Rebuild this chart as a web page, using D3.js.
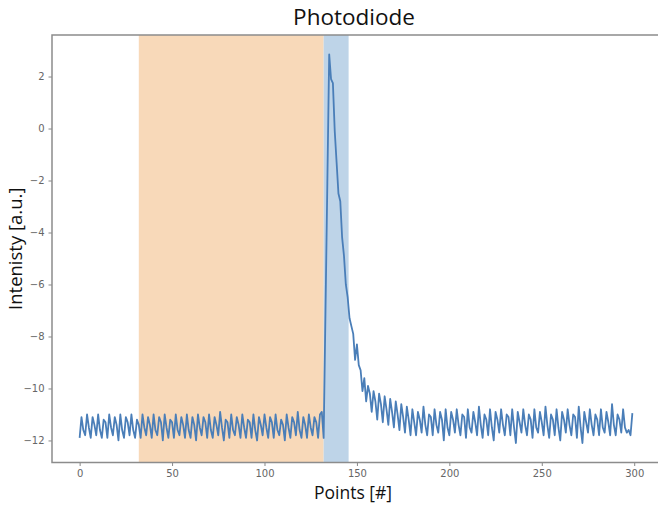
<!DOCTYPE html>
<html>
<head>
<meta charset="utf-8">
<script src="https://cdn.jsdelivr.net/npm/d3@7"></script>
<style>
  body { margin: 0; background: #fff; }
  svg { display: block; }
</style>
</head>
<body>
<script>
// Photodiode trace, one value per point index (0..299)
var before = [
  -11.9, -11.1, -11.6, -11.8, -11.0, -11.5, -11.9, -11.1, -11.4, -11.8,
  -11.0, -11.6, -11.9, -11.2, -11.3, -11.9, -11.0, -11.5, -11.8, -11.1,
  -11.4, -12.0, -11.0, -11.6, -11.9, -11.1, -11.3, -11.8, -11.0, -11.6,
  -11.9, -11.2, -11.4, -11.9, -11.0, -11.5, -11.8, -11.1, -11.4, -11.9,
  -11.0, -11.6, -11.8, -11.1, -11.3, -12.0, -11.0, -11.5, -11.9, -11.2,
  -11.3, -11.9, -11.0, -11.6, -11.8, -11.1, -11.4, -11.9, -11.0, -11.6,
  -11.9, -11.1, -11.4, -12.0, -11.0, -11.5, -11.8, -11.1, -11.3, -11.9,
  -11.0, -11.6, -11.9, -11.1, -11.4, -11.8, -10.9, -11.5, -12.0, -11.2,
  -11.3, -11.9, -11.0, -11.6, -11.8, -11.1, -11.4, -11.9, -11.0, -11.5,
  -11.9, -11.2, -11.3, -11.9, -11.0, -11.6, -12.0, -11.1, -11.4, -11.8,
  -11.0, -11.5, -11.9, -11.1, -11.3, -11.9, -11.0, -11.6, -11.8, -11.2,
  -11.4, -12.0, -11.0, -11.5, -11.9, -11.1, -11.3, -11.8, -10.9, -11.6,
  -11.9, -11.1, -11.4, -11.9, -11.0, -11.5, -11.8, -11.1, -11.3, -11.9,
  -11.0, -10.9
];
var pulse = [
  -11.9, -7.0, -2.1, 2.85, 1.9, 1.75, -0.1, -1.3, -2.5, -2.8,
  -4.2, -4.9, -6.0, -6.5, -7.3, -7.6, -7.9, -8.9, -8.3, -9.1,
  -9.3, -10.1, -9.6, -10.5, -9.9, -10.2, -10.9, -10.1, -10.5, -11.2,
  -10.2, -10.6, -11.3, -10.3, -10.8, -11.4, -10.4, -10.9, -11.5, -10.5,
  -11.0, -11.6, -10.6, -11.1, -11.7, -10.7, -11.2, -11.8
];
var after = [
  -10.8, -11.3, -11.8, -10.9, -11.2, -11.7, -10.7, -11.4, -11.8, -11.0,
  -11.1, -11.8, -10.8, -11.4, -11.7, -10.9, -11.2, -12.0, -10.8, -11.5,
  -11.8, -10.9, -11.2, -11.7, -10.8, -11.4, -11.8, -11.0, -11.1, -11.9,
  -10.8, -11.5, -11.7, -10.9, -11.3, -11.8, -10.7, -11.4, -11.9, -11.0,
  -11.2, -11.8, -10.8, -11.5, -12.0, -10.9, -11.2, -11.7, -10.8, -11.4,
  -11.8, -11.0, -11.1, -11.8, -10.8, -11.5, -12.1, -10.9, -11.3, -11.7,
  -10.8, -11.4, -11.8, -11.0, -11.2, -11.9, -10.8, -11.5, -11.7, -10.9,
  -11.3, -11.8, -10.7, -11.4, -11.9, -11.0, -11.2, -11.8, -10.8, -11.5,
  -12.0, -10.9, -11.2, -11.7, -10.8, -11.4, -11.8, -11.0, -11.1, -11.9,
  -10.7, -11.5, -12.1, -10.9, -11.3, -11.7, -10.8, -11.4, -11.8, -11.0,
  -11.2, -11.8, -10.8, -11.5, -11.7, -10.9, -11.3, -11.8, -10.6, -11.4,
  -11.8, -11.0, -11.2, -11.7, -10.8, -11.5, -11.7, -11.6, -11.8, -10.95
];
var intensity = before.concat(pulse, after);

// shaded windows [start, end] in points
var windowA = [32, 132];
var windowB = [132, 145.5];

var xTicks = [0, 50, 100, 150, 200, 250, 300];
var yTicks = [-12, -10, -8, -6, -4, -2, 0, 2];

var W = 658, H = 506;
// plot box (right edge sits just past the crop)
var pL = 52, pR = 660, pT = 35, pB = 462.5;

var svg = d3.select("body").append("svg")
  .attr("width", W)
  .attr("height", H);

var n = intensity.length;
var xPad = (n - 1) * 0.05;
var x = d3.scaleLinear()
  .domain([-xPad, n - 1 + xPad])
  .range([pL, pR]);

var ext = d3.extent(intensity);
var yPad = (ext[1] - ext[0]) * 0.05;
var y = d3.scaleLinear()
  .domain([ext[0] - yPad, ext[1] + yPad])
  .range([pB, pT]);

// spans
svg.append("rect")
  .attr("x", x(windowA[0]))
  .attr("y", pT)
  .attr("width", x(windowA[1]) - x(windowA[0]))
  .attr("height", pB - pT)
  .style("fill", "#f8d9b9");

svg.append("rect")
  .attr("x", x(windowB[0]))
  .attr("y", pT)
  .attr("width", x(windowB[1]) - x(windowB[0]))
  .attr("height", pB - pT)
  .style("fill", "#bed4e8");

var line = d3.line()
  .x(function(d, i){ return x(i); })
  .y(function(d){ return y(d); });

svg.append("path")
  .datum(intensity)
  .attr("d", line)
  .style("fill", "none")
  .style("stroke", "#4a7eb8")
  .style("stroke-width", 1.8)
  .style("stroke-linejoin", "round");

var fmt = function(d){ return d < 0 ? "\u2212" + Math.abs(d) : "" + d; };

var xAxis = svg.append("g")
  .attr("transform", "translate(0," + pB + ")")
  .call(d3.axisBottom(x).tickValues(xTicks).tickSize(3.5).tickPadding(4).tickFormat(fmt));

var yAxis = svg.append("g")
  .attr("transform", "translate(" + pL + ",0)")
  .call(d3.axisLeft(y).tickValues(yTicks).tickSize(3.5).tickPadding(4).tickFormat(fmt));

[xAxis, yAxis].forEach(function(g){
  g.select(".domain").remove();
  g.selectAll(".tick line").style("stroke", "#888").style("stroke-width", 1);
  g.selectAll(".tick text")
    .style("fill", "#666")
    .style("font-family", "'DejaVu Sans', sans-serif")
    .style("font-size", "10px");
});

// spines: left, bottom, top
svg.append("path")
  .attr("d", "M" + pR + "," + pT + "H" + pL + "V" + pB + "H" + pR)
  .style("fill", "none")
  .style("stroke", "#8c8c8c")
  .style("stroke-width", 1.5);

svg.append("text")
  .attr("x", (pL + pR) / 2 - 2)
  .attr("y", 25)
  .attr("text-anchor", "middle")
  .style("font-family", "'Open Sans', sans-serif")
  .style("font-size", "22.5px")
  .style("fill", "#111")
  .text("Photodiode");

svg.append("text")
  .attr("x", (pL + pR) / 2 - 3)
  .attr("y", 499)
  .attr("text-anchor", "middle")
  .style("font-family", "'Open Sans', sans-serif")
  .style("font-size", "17.5px")
  .style("fill", "#111")
  .text("Points [#]");

svg.append("text")
  .attr("transform", "translate(22," + ((pT + pB) / 2) + ") rotate(-90)")
  .attr("text-anchor", "middle")
  .style("font-family", "'Open Sans', sans-serif")
  .style("font-size", "18.5px")
  .style("fill", "#111")
  .text("Intenisty [a.u.]");
</script>
</body>
</html>
